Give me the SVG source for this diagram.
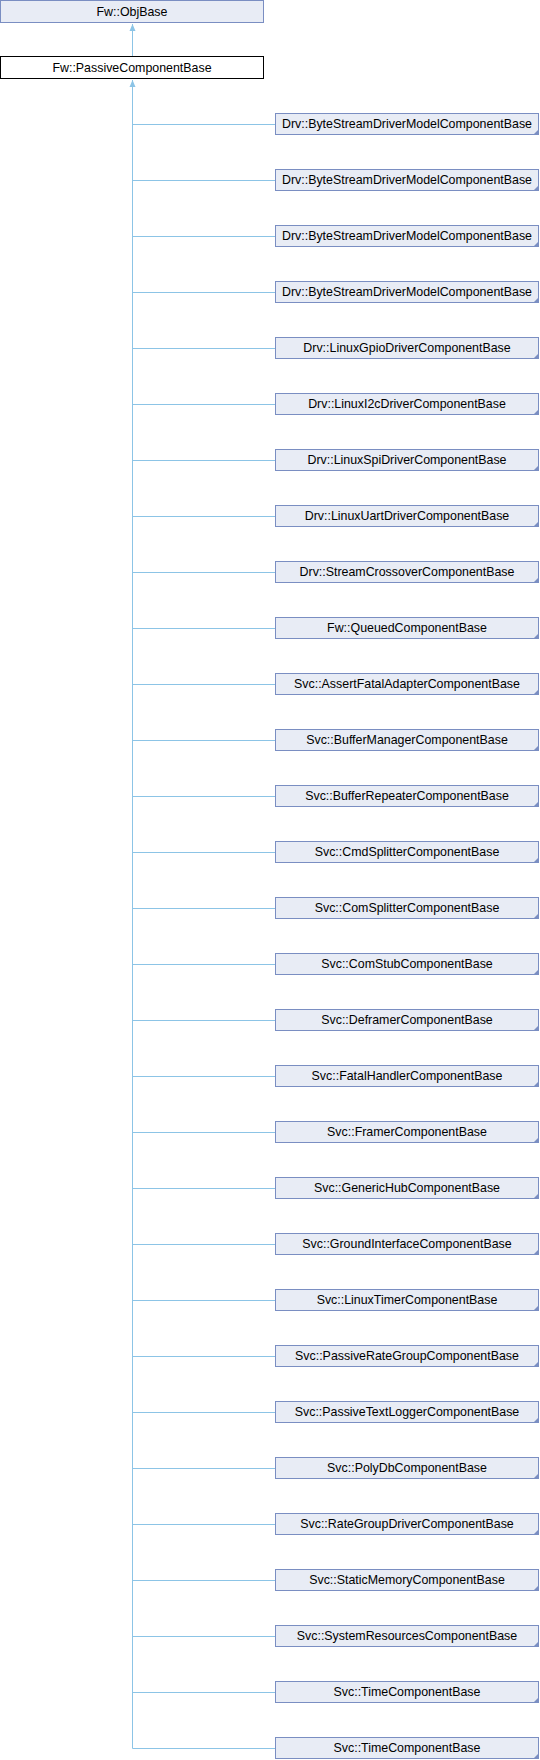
<svg xmlns="http://www.w3.org/2000/svg" width="540" height="1760" viewBox="0 0 540 1760">
<defs>
<style>
.b{fill:#E8ECF5;stroke:#7A8EC2;stroke-width:1}
.w{fill:#FFFFFF;stroke:#000000;stroke-width:1}
.t{font-family:"Liberation Sans",Arial,sans-serif;font-size:12.4px;fill:#000;text-anchor:middle}
.c{fill:#7A8EC2}
.e{stroke:#8CC4E6;stroke-width:1;fill:none}
</style>
<marker id="ah" markerWidth="8" markerHeight="8" refX="7" refY="4" orient="auto" markerUnits="userSpaceOnUse">
<path d="M0,1 L7,4 L0,7 Z" fill="#8CC4E6"/>
</marker>
<g id="child">
<rect class="b" x="275.5" y="0.5" width="263" height="21"/>
<path class="c" d="M539,16 L539,22 L533,22 Z"/>
</g>
</defs>
<g id="connectors">
<line class="e" x1="132.5" y1="56" x2="132.5" y2="24" marker-end="url(#ah)"/>
<line class="e" x1="132.5" y1="1748.5" x2="132.5" y2="80" marker-end="url(#ah)"/>
<path class="e" d="M132.5,124.5H275M132.5,180.5H275M132.5,236.5H275M132.5,292.5H275M132.5,348.5H275M132.5,404.5H275M132.5,460.5H275M132.5,516.5H275M132.5,572.5H275M132.5,628.5H275M132.5,684.5H275M132.5,740.5H275M132.5,796.5H275M132.5,852.5H275M132.5,908.5H275M132.5,964.5H275M132.5,1020.5H275M132.5,1076.5H275M132.5,1132.5H275M132.5,1188.5H275M132.5,1244.5H275M132.5,1300.5H275M132.5,1356.5H275M132.5,1412.5H275M132.5,1468.5H275M132.5,1524.5H275M132.5,1580.5H275M132.5,1636.5H275M132.5,1692.5H275M132.5,1748.5H275"/>
</g>
<g id="n_objbase"><rect class="b" x="0.5" y="0.5" width="263" height="22"/><text class="t" x="132" y="15.5">Fw::ObjBase</text></g>
<g id="n_passive"><rect class="w" x="0.5" y="56.5" width="263" height="22"/><text class="t" x="132" y="71.5">Fw::PassiveComponentBase</text></g>
<g id="n0" transform="translate(0,113)"><use href="#child"/><text class="t" x="407" y="15.3">Drv::ByteStreamDriverModelComponentBase</text></g>
<g id="n1" transform="translate(0,169)"><use href="#child"/><text class="t" x="407" y="15.3">Drv::ByteStreamDriverModelComponentBase</text></g>
<g id="n2" transform="translate(0,225)"><use href="#child"/><text class="t" x="407" y="15.3">Drv::ByteStreamDriverModelComponentBase</text></g>
<g id="n3" transform="translate(0,281)"><use href="#child"/><text class="t" x="407" y="15.3">Drv::ByteStreamDriverModelComponentBase</text></g>
<g id="n4" transform="translate(0,337)"><use href="#child"/><text class="t" x="407" y="15.3">Drv::LinuxGpioDriverComponentBase</text></g>
<g id="n5" transform="translate(0,393)"><use href="#child"/><text class="t" x="407" y="15.3">Drv::LinuxI2cDriverComponentBase</text></g>
<g id="n6" transform="translate(0,449)"><use href="#child"/><text class="t" x="407" y="15.3">Drv::LinuxSpiDriverComponentBase</text></g>
<g id="n7" transform="translate(0,505)"><use href="#child"/><text class="t" x="407" y="15.3">Drv::LinuxUartDriverComponentBase</text></g>
<g id="n8" transform="translate(0,561)"><use href="#child"/><text class="t" x="407" y="15.3">Drv::StreamCrossoverComponentBase</text></g>
<g id="n9" transform="translate(0,617)"><use href="#child"/><text class="t" x="407" y="15.3">Fw::QueuedComponentBase</text></g>
<g id="n10" transform="translate(0,673)"><use href="#child"/><text class="t" x="407" y="15.3">Svc::AssertFatalAdapterComponentBase</text></g>
<g id="n11" transform="translate(0,729)"><use href="#child"/><text class="t" x="407" y="15.3">Svc::BufferManagerComponentBase</text></g>
<g id="n12" transform="translate(0,785)"><use href="#child"/><text class="t" x="407" y="15.3">Svc::BufferRepeaterComponentBase</text></g>
<g id="n13" transform="translate(0,841)"><use href="#child"/><text class="t" x="407" y="15.3">Svc::CmdSplitterComponentBase</text></g>
<g id="n14" transform="translate(0,897)"><use href="#child"/><text class="t" x="407" y="15.3">Svc::ComSplitterComponentBase</text></g>
<g id="n15" transform="translate(0,953)"><use href="#child"/><text class="t" x="407" y="15.3">Svc::ComStubComponentBase</text></g>
<g id="n16" transform="translate(0,1009)"><use href="#child"/><text class="t" x="407" y="15.3">Svc::DeframerComponentBase</text></g>
<g id="n17" transform="translate(0,1065)"><use href="#child"/><text class="t" x="407" y="15.3">Svc::FatalHandlerComponentBase</text></g>
<g id="n18" transform="translate(0,1121)"><use href="#child"/><text class="t" x="407" y="15.3">Svc::FramerComponentBase</text></g>
<g id="n19" transform="translate(0,1177)"><use href="#child"/><text class="t" x="407" y="15.3">Svc::GenericHubComponentBase</text></g>
<g id="n20" transform="translate(0,1233)"><use href="#child"/><text class="t" x="407" y="15.3">Svc::GroundInterfaceComponentBase</text></g>
<g id="n21" transform="translate(0,1289)"><use href="#child"/><text class="t" x="407" y="15.3">Svc::LinuxTimerComponentBase</text></g>
<g id="n22" transform="translate(0,1345)"><use href="#child"/><text class="t" x="407" y="15.3">Svc::PassiveRateGroupComponentBase</text></g>
<g id="n23" transform="translate(0,1401)"><use href="#child"/><text class="t" x="407" y="15.3">Svc::PassiveTextLoggerComponentBase</text></g>
<g id="n24" transform="translate(0,1457)"><use href="#child"/><text class="t" x="407" y="15.3">Svc::PolyDbComponentBase</text></g>
<g id="n25" transform="translate(0,1513)"><use href="#child"/><text class="t" x="407" y="15.3">Svc::RateGroupDriverComponentBase</text></g>
<g id="n26" transform="translate(0,1569)"><use href="#child"/><text class="t" x="407" y="15.3">Svc::StaticMemoryComponentBase</text></g>
<g id="n27" transform="translate(0,1625)"><use href="#child"/><text class="t" x="407" y="15.3">Svc::SystemResourcesComponentBase</text></g>
<g id="n28" transform="translate(0,1681)"><use href="#child"/><text class="t" x="407" y="15.3">Svc::TimeComponentBase</text></g>
<g id="n29" transform="translate(0,1737)"><use href="#child"/><text class="t" x="407" y="15.3">Svc::TimeComponentBase</text></g>
</svg>
